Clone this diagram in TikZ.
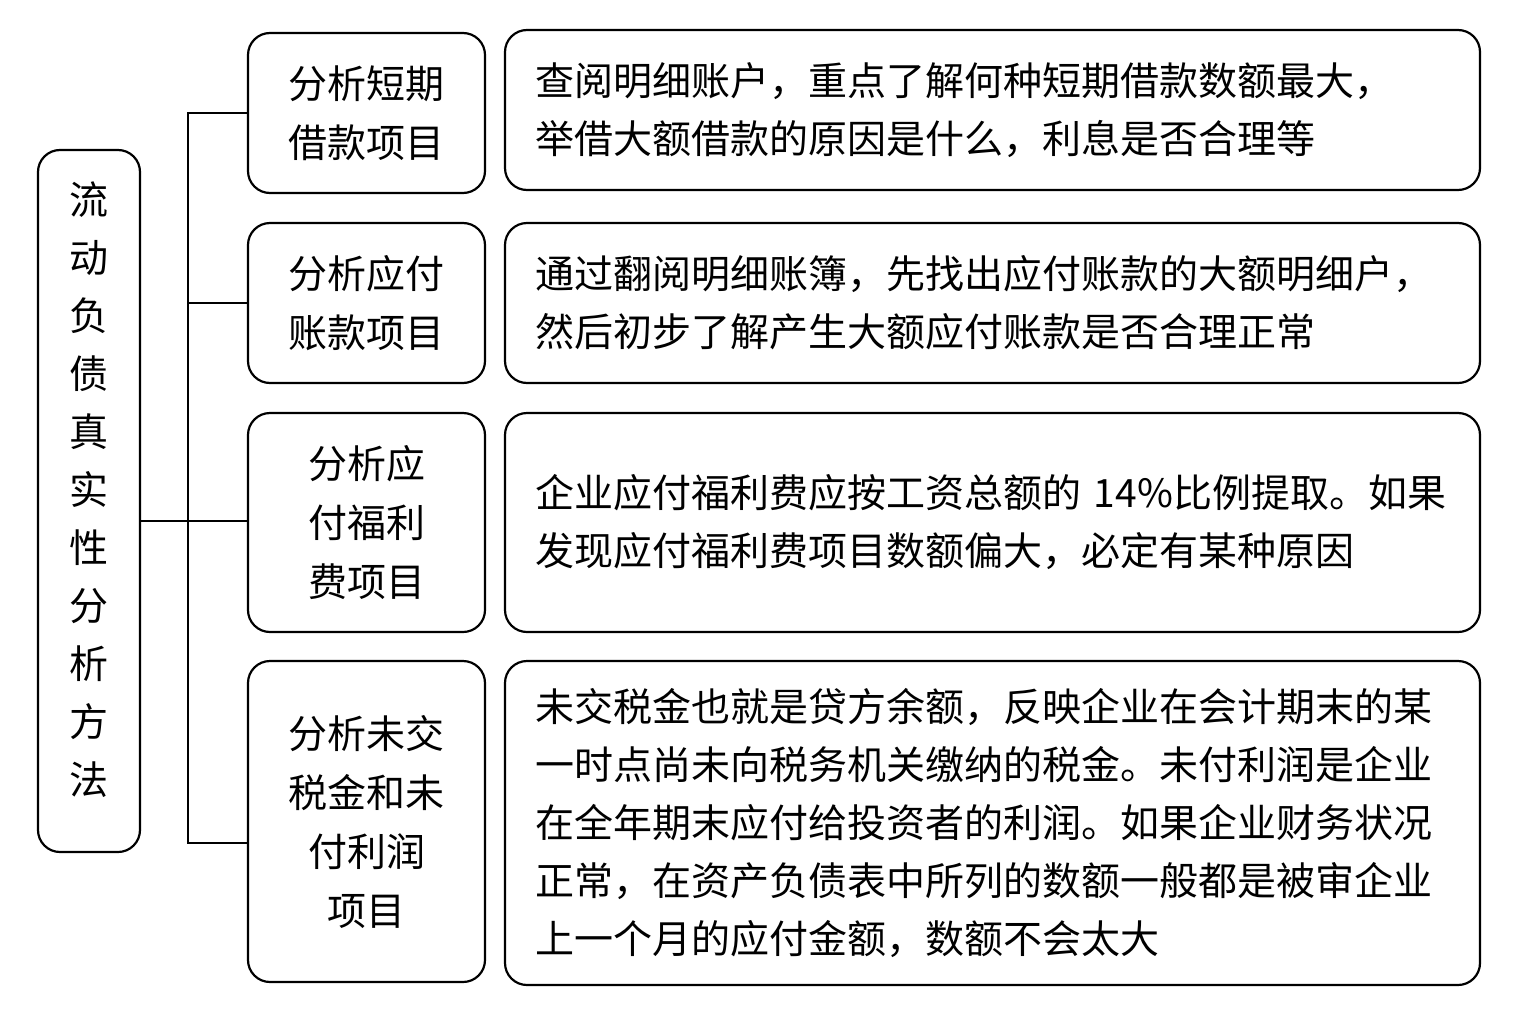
\documentclass[tikz,border=0pt]{standalone}
\usepackage{fontspec}
\newfontfamily\cjk{Noto Sans CJK SC}
\begin{document}
\begin{tikzpicture}[x=1pt,y=-1pt,
  box/.style={draw=black,line width=2.2pt,rounded corners=22pt,inner sep=0pt},
  midtxt/.style={box,align=center,minimum width=237pt,font=\cjk\fontsize{39}{59}\selectfont},
  righttxt/.style={box,align=left,minimum width=975pt,text width=915pt,inner xsep=30pt,font=\cjk\fontsize{39}{58}\selectfont},
  conn/.style={line width=2.2pt}]
\useasboundingbox[fill=white] (0,0) rectangle (1517,1017);
% left box
\node[box,minimum width=102pt,minimum height=702pt,align=center,font=\cjk\fontsize{39}{58}\selectfont] (l) at (89,501)
  {流\\动\\负\\债\\真\\实\\性\\分\\析\\方\\法\\[-32pt]};
% middle boxes
\node[midtxt,minimum height=160pt] (m1) at (366.5,113) {分析短期\\借款项目};
\node[midtxt,minimum height=160pt] (m2) at (366.5,303) {分析应付\\账款项目};
\node[midtxt,minimum height=219pt] (m3) at (366.5,522.5) {分析应\\付福利\\费项目};
\node[midtxt,minimum height=321pt] (m4) at (366.5,821.5) {分析未交\\税金和未\\付利润\\项目};
% right boxes
\node[righttxt,minimum height=160pt] (r1) at (992.5,110) {查阅明细账户，重点了解何种短期借款数额最大，\\举借大额借款的原因是什么，利息是否合理等};
\node[righttxt,minimum height=160pt] (r2) at (992.5,303) {通过翻阅明细账簿，先找出应付账款的大额明细户，\\然后初步了解产生大额应付账款是否合理正常};
\node[righttxt,minimum height=219pt] (r3) at (992.5,522.5) {企业应付福利费应按工资总额的 14\%比例提取。如果\\发现应付福利费项目数额偏大，必定有某种原因\\[20pt]};
\node[righttxt,minimum height=324pt] (r4) at (992.5,823) {未交税金也就是贷方余额，反映企业在会计期末的某\\一时点尚未向税务机关缴纳的税金。未付利润是企业\\在全年期末应付给投资者的利润。如果企业财务状况\\正常，在资产负债表中所列的数额一般都是被审企业\\上一个月的应付金额，数额不会太大};
% connectors
\coordinate (j) at (188,521);
\coordinate (m4w) at (248,843);
\draw[conn] (l.east |- j) -- (j);
\draw[conn] (j) |- (m1.west);
\draw[conn] (j) |- (m2.west);
\draw[conn] (j) -- (m3.west |- j);
\draw[conn] (j) |- (m4w);
\end{tikzpicture}
\end{document}
